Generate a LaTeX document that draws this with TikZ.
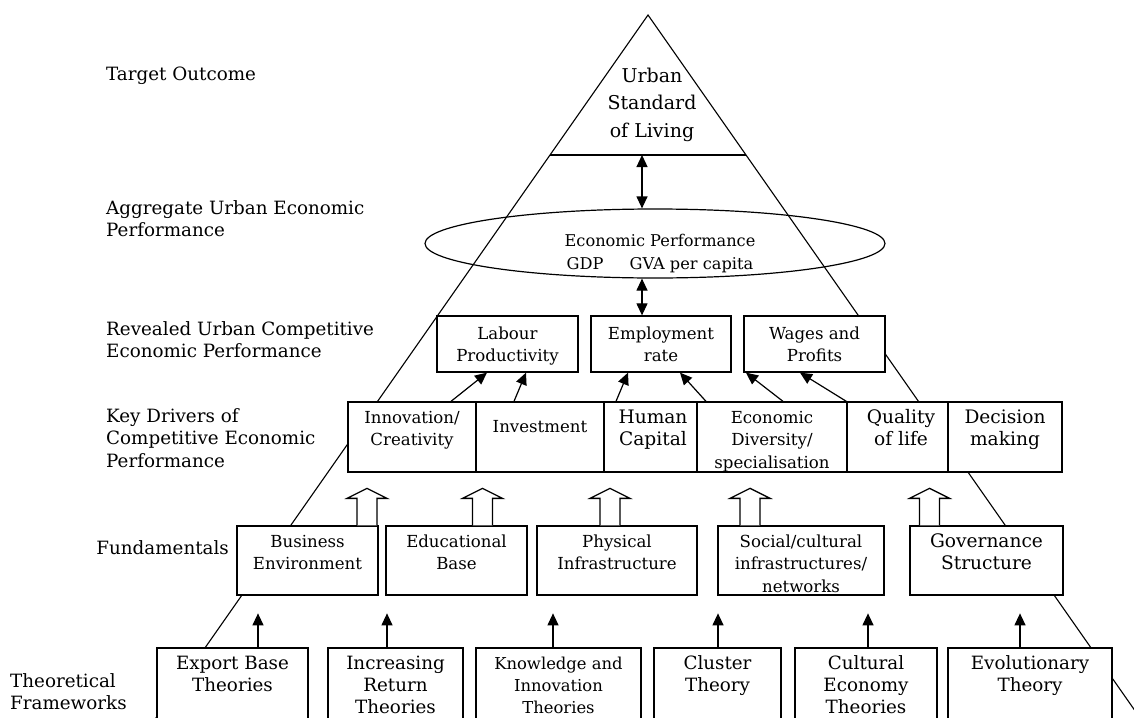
\documentclass[tikz,border=0pt]{standalone}
\usepackage{fontspec}
\setmainfont{DejaVu Serif}
\usetikzlibrary{shapes.geometric, arrows.meta}

% fixed height of the first line, so text nodes can be placed by their first baseline
\newcommand\lnstrut{\rule{0pt}{15pt}}

\begin{document}
\begin{tikzpicture}[x=1pt, y=-1pt,
  fLab/.style={font=\fontsize{18.3}{22.5}\selectfont, inner sep=0pt, align=left},
  fBig/.style={font=\fontsize{18.6}{22.5}\selectfont, inner sep=0pt, align=center, anchor=north},
  fSmall/.style={font=\fontsize{16.6}{22.5}\selectfont, inner sep=0pt, align=center, anchor=north},
  box/.style={draw, fill=white, line width=1.3pt, inner sep=0pt},
  side/.style={line width=1.1pt},
  arr/.style={line width=1.2pt, -{Triangle[length=12pt,width=11pt]}},
  darr/.style={line width=1.2pt, {Triangle[length=12pt,width=11pt]}-{Triangle[length=12pt,width=11pt]}},
  hollow/.pic={\draw[line width=1.3pt, fill=white, line join=miter]
    (-10,0) -- (-10,-27) -- (-20,-27) -- (0,-37) -- (20,-27) -- (10,-27) -- (10,0);}
]
\useasboundingbox (0,0) rectangle (1134,717);
\clip (0,0) rectangle (1134,717);

% the pyramid
\coordinate (apex) at (648,15);
\draw[side] (147.5,730) -- (apex) -- (1148.5,730);
\draw[side] (550,155) -- (746,155);
\coordinate (lvl) at (642,155);

% level captions
\node[fLab, anchor=north west] (capT) at (106,65) {\lnstrut Target Outcome};
\node[fLab, anchor=north west] (capA) at (106,199) {\lnstrut Aggregate Urban Economic\\Performance};
\node[fLab, anchor=north west] (capR) at (106,320) {\lnstrut Revealed Urban Competitive\\Economic Performance};
\node[fLab, anchor=north west] (capK) at (106,407) {\lnstrut Key Drivers of\\Competitive Economic\\Performance};
\node[fLab, anchor=north east] (capF) at (229,539) {\lnstrut Fundamentals};
\node[fLab, anchor=north west] (capTh) at (10,672) {\lnstrut Theoretical\\Frameworks};

% target outcome
\node[font=\fontsize{19}{27.5}\selectfont, inner sep=0pt, align=center, anchor=north] (usl) at (652,67)
  {\lnstrut Urban\\Standard\\of Living};

% aggregate performance
\node[draw, ellipse, line width=1.2pt, minimum width=460, minimum height=69, inner sep=0pt] (perf) at (655,243.5) {};
\node[font=\fontsize{16.2}{23}\selectfont, inner sep=0pt, align=center, anchor=north] (perfT) at (660,231)
  {\lnstrut Economic Performance\\GDP\hspace{26pt}GVA per capita};

% revealed performance
\node[box, minimum width=141, minimum height=56] (labour) at (507.5,344) {};
\node[box, minimum width=140, minimum height=56] (employ) at (661,344) {};
\node[box, minimum width=141, minimum height=56] (wages) at (814.5,344) {};
\node[fSmall] (labourT) at (507.5,324) {\lnstrut Labour\\Productivity};
\node[fSmall] (employT) at (661,324) {\lnstrut Employment\\rate};
\node[fSmall] (wagesT) at (814.5,324) {\lnstrut Wages and\\Profits};

% key drivers
\node[box, minimum width=128, minimum height=70] (innov) at (412,437) {};
\node[box, minimum width=128, minimum height=70] (invest) at (540,437) {};
\node[box, minimum width=93, minimum height=70] (human) at (650.5,437) {};
\node[box, minimum width=150, minimum height=70] (divers) at (772,437) {};
\node[box, minimum width=101, minimum height=70] (quality) at (897.5,437) {};
\node[box, minimum width=114, minimum height=70] (decision) at (1005,437) {};
\node[fSmall] (innovT) at (412,408) {\lnstrut Innovation/\\Creativity};
\node[fSmall] (investT) at (540,417) {\lnstrut Investment};
\node[fBig] (humanT) at (653,408) {\lnstrut Human\\Capital};
\node[fSmall] (diversT) at (772,408) {\lnstrut Economic\\Diversity/\\specialisation};
\node[fBig] (qualityT) at (901,408) {\lnstrut Quality\\of life};
\node[fBig] (decisionT) at (1005,408) {\lnstrut Decision\\making};

% fundamentals
\node[box, minimum width=141, minimum height=69] (business) at (307.5,560.5) {};
\node[box, minimum width=141, minimum height=69] (educ) at (456.5,560.5) {};
\node[box, minimum width=160, minimum height=69] (phys) at (617,560.5) {};
\node[box, minimum width=166, minimum height=69] (social) at (801,560.5) {};
\node[box, minimum width=153, minimum height=69] (govern) at (986.5,560.5) {};
\node[fSmall] (businessT) at (307.5,532) {\lnstrut Business\\Environment};
\node[fSmall] (educT) at (456.5,532) {\lnstrut Educational\\Base};
\node[fSmall] (physT) at (617,532) {\lnstrut Physical\\Infrastructure};
\node[fSmall] (socialT) at (801,532) {\lnstrut Social/cultural\\infrastructures/\\networks};
\node[fBig] (governT) at (986.5,532) {\lnstrut Governance\\Structure};

% theoretical frameworks
\node[box, minimum width=151, minimum height=112] (export) at (232.5,704) {};
\node[box, minimum width=135, minimum height=112] (incr) at (395.5,704) {};
\node[box, minimum width=165, minimum height=112] (know) at (558.5,704) {};
\node[box, minimum width=127, minimum height=112] (cluster) at (717.5,704) {};
\node[box, minimum width=142, minimum height=112] (cultural) at (866,704) {};
\node[box, minimum width=164, minimum height=112] (evol) at (1030,704) {};
\node[fBig, font=\fontsize{18.3}{22}\selectfont] (exportT) at (232.5,654) {\lnstrut Export Base\\Theories};
\node[fBig, font=\fontsize{18.3}{22}\selectfont] (incrT) at (395.5,654) {\lnstrut Increasing\\Return\\Theories};
\node[fSmall, font=\fontsize{16.4}{22}\selectfont] (knowT) at (558.5,654) {\lnstrut Knowledge and\\Innovation\\Theories};
\node[fBig, font=\fontsize{18.3}{22}\selectfont] (clusterT) at (717.5,654) {\lnstrut Cluster\\Theory};
\node[fBig, font=\fontsize{18.3}{22}\selectfont] (culturalT) at (866,654) {\lnstrut Cultural\\Economy\\Theories};
\node[fBig, font=\fontsize{18.3}{22}\selectfont] (evolT) at (1030,654) {\lnstrut Evolutionary\\Theory};

% links between the levels
\draw[darr] (lvl) -- (lvl |- perf.north);
\draw[darr] (perf.south -| lvl) -- ([xshift=-19pt]employ.north);

\draw[arr] ([xshift=39pt]innov.north) -- ([xshift=-20.5pt]labour.south);
\draw[arr] ([xshift=-26pt]invest.north) -- ([xshift=18.5pt]labour.south);
\draw[arr] ([xshift=-34.5pt]human.north) -- ([xshift=-33pt]employ.south);
\draw[arr] ([xshift=-66pt]divers.north) -- ([xshift=19pt]employ.south);
\draw[arr] ([xshift=11pt]divers.north) -- ([xshift=-68.5pt]wages.south);
\draw[arr] (quality.north west) -- ([xshift=-14.5pt]wages.south);

\pic at ([xshift=59.5pt]business.north) {hollow};
\pic at ([xshift=26pt]educ.north) {hollow};
\pic at ([xshift=-7pt]phys.north) {hollow};
\pic at ([xshift=-51pt]social.north) {hollow};
\pic at ([xshift=-57pt]govern.north) {hollow};

\draw[arr] ([xshift=25.5pt]export.north) -- ++(0,-34);
\draw[arr] ([xshift=-8.5pt]incr.north) -- ++(0,-34);
\draw[arr] ([xshift=-5.5pt]know.north) -- ++(0,-34);
\draw[arr] ([xshift=0.5pt]cluster.north) -- ++(0,-34);
\draw[arr] ([xshift=2pt]cultural.north) -- ++(0,-34);
\draw[arr] ([xshift=-10pt]evol.north) -- ++(0,-34);
\end{tikzpicture}
\end{document}
